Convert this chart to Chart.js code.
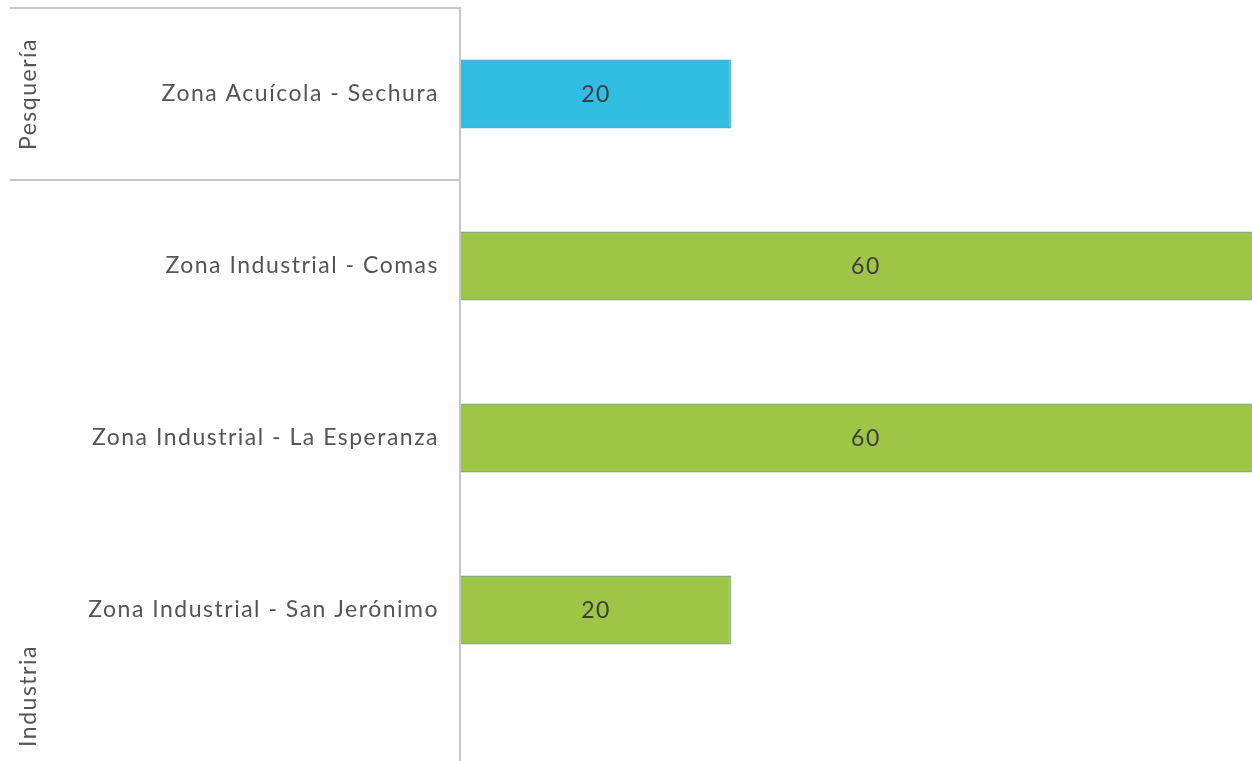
<!DOCTYPE html>
<html>
<head>
<meta charset="utf-8">
<script src="https://cdn.jsdelivr.net/npm/chart.js@4"></script>
<style>
  html, body { margin: 0; padding: 0; background: #fff; }
  #wrap { width: 1252px; height: 761px; }
</style>
</head>
<body>
<div id="wrap"><canvas id="chart"></canvas></div>
<script>
// data
const categories = ["Zona Acuícola - Sechura", "Zona Industrial - Comas", "Zona Industrial - La Esperanza", "Zona Industrial - San Jerónimo"];
const groups = ["Pesquería", "Industria", "Industria", "Industria"];
const values = [20, 60, 60, 20];
const barColors = ["#31bce1", "#9ec545", "#9ec545", "#9ec545"];
const edgeColors = ["#4aaedb", "#86b17a", "#86b17a", "#86b17a"];

const FONT = "Lato, 'Open Sans', sans-serif";
const lineColor = "#c8c8c8";

// draws value labels, category and group labels and the separator lines
const decor = {
  id: 'decor',
  afterDatasetsDraw(chart) {
    const ctx = chart.ctx;
    const x = chart.scales.x, y = chart.scales.y;
    const area = chart.chartArea;
    const meta = chart.getDatasetMeta(0);

    ctx.save();
    ctx.font = "23px " + FONT;
    ctx.letterSpacing = "1.5px";
    ctx.textBaseline = "middle";

    // values inside the bars
    ctx.fillStyle = "#3d3d3d";
    ctx.textAlign = "center";
    meta.data.forEach((bar, i) => {
      const cx = (x.getPixelForValue(0) + x.getPixelForValue(values[i])) / 2;
      ctx.fillText(String(values[i]), cx, bar.y + 1);
    });

    // category labels
    ctx.fillStyle = "#555";
    ctx.textAlign = "right";
    categories.forEach((c, i) => {
      ctx.fillText(c, area.left - 22, y.getPixelForValue(i));
    });

    // axis line, running to the bottom of the canvas
    ctx.strokeStyle = lineColor;
    ctx.lineWidth = 2;
    ctx.beginPath();
    ctx.moveTo(area.left - 1, area.top - 1);
    ctx.lineTo(area.left - 1, chart.height);
    ctx.stroke();

    // group boxes
    const step = y.getPixelForValue(1) - y.getPixelForValue(0);
    let start = 0;
    for (let i = 0; i <= groups.length; i++) {
      if (i === groups.length || groups[i] !== groups[start]) {
        const top = y.getPixelForValue(start) - step / 2;
        ctx.beginPath();
        ctx.moveTo(10, top);
        ctx.lineTo(area.left - 1, top);
        ctx.stroke();
        if (i < groups.length) start = i;
      }
    }

    // group labels
    ctx.textAlign = "center";
    ctx.save();
    ctx.translate(29, y.getPixelForValue(0));
    ctx.rotate(-Math.PI / 2);
    ctx.fillText(groups[0], 0, 0);
    ctx.restore();
    ctx.save();
    ctx.translate(29, y.getPixelForValue(3) + step / 2);
    ctx.rotate(-Math.PI / 2);
    ctx.fillText(groups[1], 0, 0);
    ctx.restore();

    ctx.restore();
  }
};

new Chart(document.getElementById('chart'), {
  type: 'bar',
  data: {
    labels: categories,
    datasets: [{
      data: values,
      backgroundColor: barColors,
      borderColor: edgeColors,
      borderWidth: 1.5,
      barPercentage: 0.4,
      categoryPercentage: 1
    }]
  },
  options: {
    indexAxis: 'y',
    responsive: true,
    maintainAspectRatio: false,
    animation: false,
    layout: { padding: { top: 8, bottom: 65, left: 0, right: 0 } },
    plugins: { legend: { display: false }, tooltip: { enabled: false } },
    scales: {
      x: { display: false, min: 0, max: 58.6 },
      y: {
        afterFit(scale) {
          scale.width = 461;
          scale.paddingTop = 0;
          scale.paddingBottom = 0;
        },
        grid: { display: false, drawTicks: false },
        border: { display: false },
        ticks: { display: false }
      }
    }
  },
  plugins: [decor]
});
</script>
</body>
</html>
